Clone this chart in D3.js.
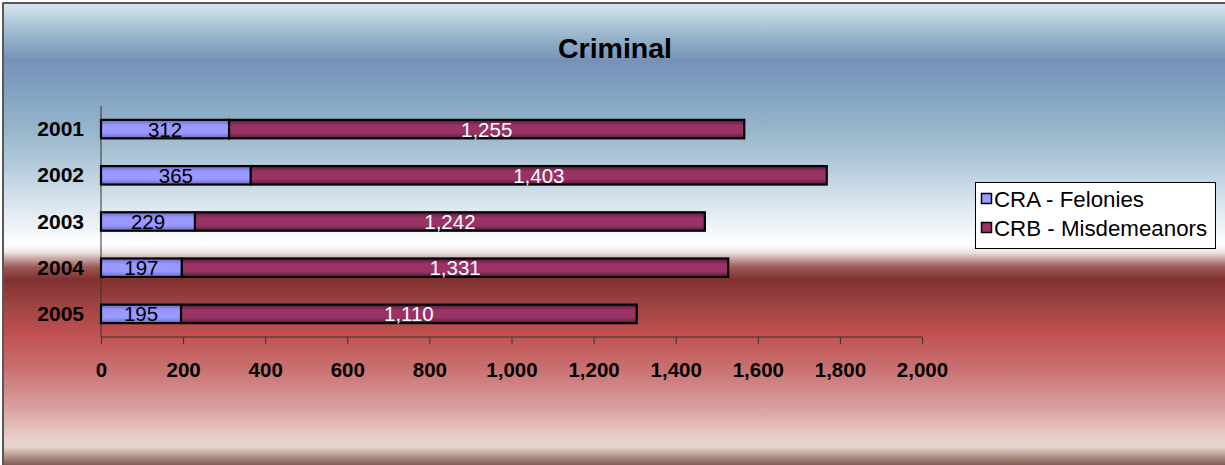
<!DOCTYPE html>
<html>
<head>
<meta charset="utf-8">
<script src="https://cdn.jsdelivr.net/npm/d3@7"></script>
<style>
html,body{margin:0;padding:0;background:#fff;}
svg{display:block;font-family:Arial,"Liberation Sans",sans-serif;}
</style>
</head>
<body>
<svg id="chart" width="1225" height="465"></svg>
<script>
const years = ["2001", "2002", "2003", "2004", "2005"];
const felonies = [312, 365, 229, 197, 195];
const misdemeanors = [1255, 1403, 1242, 1331, 1110];
const seriesNames = ["CRA - Felonies", "CRB - Misdemeanors"];
const xTicks = [0, 200, 400, 600, 800, 1000, 1200, 1400, 1600, 1800, 2000];
const title = "Criminal";

const svg = d3.select("#chart");
const defs = svg.append("defs");

// background gradient
const bg = defs.append("linearGradient").attr("id","bg").attr("x1",0).attr("y1",0).attr("x2",0).attr("y2",1);
const H = 461;
[[4,"#d4e4ef"],[20,"#b6cede"],[35,"#98b6cc"],[60,"#7890b8"],[85,"#7ea0c0"],[120,"#92b0c8"],[160,"#b0c8d8"],[200,"#d8e4ee"],[243,"#ffffff"],[250,"#efe4e2"],[258,"#c09a98"],[265,"#9c5855"],[277,"#803230"],[300,"#9c4242"],[330,"#c05050"],[365,"#c97070"],[400,"#d89a9a"],[432,"#e6ccc6"],[443,"#e8d6d0"],[452,"#b59890"],[465,"#6a4038"]]
  .forEach(([y,c]) => bg.append("stop").attr("offset", ((y-4)/H)).attr("stop-color", c));

function barGrad(id, dark, base){
  const g = defs.append("linearGradient").attr("id",id).attr("x1",0).attr("y1",0).attr("x2",0).attr("y2",1);
  g.append("stop").attr("offset",0).attr("stop-color",dark);
  g.append("stop").attr("offset",0.3).attr("stop-color",base);
  g.append("stop").attr("offset",0.7).attr("stop-color",base);
  g.append("stop").attr("offset",1).attr("stop-color",dark);
}
barGrad("gBlue","#6a6acc","#9999ff");
barGrad("gRed","#5a1a3c","#993366");

svg.append("rect").attr("x",4).attr("y",4).attr("width",1225).attr("height",465).attr("fill","url(#bg)");
svg.append("rect").attr("x",3).attr("y",3).attr("width",1240).attr("height",480)
  .attr("fill","none").attr("stroke","#222").attr("stroke-width",1.5);

// title
svg.append("text").attr("x",615).attr("y",58).attr("text-anchor","middle")
  .attr("font-size",28.5).attr("font-weight","bold").attr("fill","#000").text(title);

const x = d3.scaleLinear().domain([0,2000]).range([101,922]);
const y = d3.scaleBand().domain(years).range([106,337]).paddingInner(0.6).paddingOuter(0.3);

// y axis line
svg.append("line").attr("x1",101).attr("x2",101).attr("y1",106).attr("y2",337)
  .attr("stroke","#333").attr("stroke-width",1);

// x axis
const xAxis = svg.append("g").attr("transform","translate(0,337)")
  .call(d3.axisBottom(x).tickValues(xTicks).tickSize(7).tickFormat(d3.format(",")));
xAxis.select(".domain").attr("stroke","#333").attr("d","M101,0H922");
xAxis.selectAll(".tick line").attr("stroke","#333");
xAxis.selectAll(".tick text").attr("font-size",20.5).attr("font-weight","bold")
  .attr("font-family","Arial, 'Liberation Sans', sans-serif").attr("fill","#000")
  .attr("dy",null).attr("y",40);

// year labels
svg.append("g").selectAll("text").data(years).join("text")
  .attr("x",84).attr("y",d => y(d)+y.bandwidth()/2+7)
  .attr("text-anchor","end").attr("font-size",21).attr("font-weight","bold").attr("fill","#000")
  .text(d => d);

const data = years.map((yr,i) => ({yr, a: felonies[i], b: misdemeanors[i]}));
const g = svg.append("g");
g.selectAll("rect.a").data(data).join("rect").attr("class","a")
  .attr("x", x(0)).attr("y", d => y(d.yr)).attr("height", y.bandwidth())
  .attr("width", d => x(d.a)-x(0))
  .attr("fill","url(#gBlue)").attr("stroke","#000").attr("stroke-width",2.2);
g.selectAll("rect.b").data(data).join("rect").attr("class","b")
  .attr("x", d => x(d.a)).attr("y", d => y(d.yr)).attr("height", y.bandwidth())
  .attr("width", d => x(d.a+d.b)-x(d.a))
  .attr("fill","url(#gRed)").attr("stroke","#000").attr("stroke-width",2.2);

const fmt = d3.format(",");
g.selectAll("text.la").data(data).join("text").attr("class","la")
  .attr("x", d => (x(0)+x(d.a))/2).attr("y", d => y(d.yr)+y.bandwidth()/2+7.5)
  .attr("text-anchor","middle").attr("font-size",20.5).attr("fill","#000").text(d => fmt(d.a));
g.selectAll("text.lb").data(data).join("text").attr("class","lb")
  .attr("x", d => (x(d.a)+x(d.a+d.b))/2).attr("y", d => y(d.yr)+y.bandwidth()/2+7.5)
  .attr("text-anchor","middle").attr("font-size",20.5).attr("fill","#fff").text(d => fmt(d.b));

// legend
const lg = svg.append("g");
lg.append("rect").attr("x",975.5).attr("y",182.5).attr("width",240).attr("height",66)
  .attr("fill","#fff").attr("stroke","#000").attr("stroke-width",1);
const legFills = ["#9999ff","#993366"];
seriesNames.forEach((n,i) => {
  const cy = 199 + i*29;
  lg.append("rect").attr("x",981.5).attr("y",cy-5.5).attr("width",10).attr("height",10)
    .attr("fill",legFills[i]).attr("stroke","#000").attr("stroke-width",1.5);
  lg.append("text").attr("x",994).attr("y",cy+8).attr("font-size",22.3).attr("fill","#000").text(n);
});
</script>
</body>
</html>
